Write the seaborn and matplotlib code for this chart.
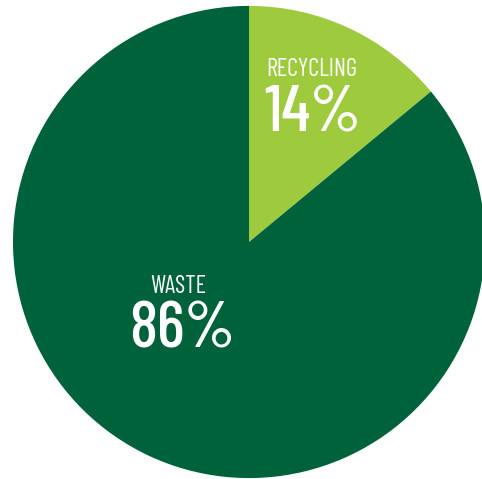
import matplotlib
matplotlib.use("Agg")
import matplotlib.pyplot as plt
import seaborn as sns

# Share of materials
categories = ["RECYCLING", "WASTE"]
shares = [14, 86]
colors = ["#9dcb3d", "#00623a"]

sns.set_theme(style="white")
narrow = ["Barlow Condensed", "DejaVu Sans"]

fig = plt.figure(figsize=(4.82, 4.79), dpi=100)
ax = fig.add_axes([0, 0, 1, 1])
ax.pie(shares, colors=colors, startangle=90, counterclock=False,
       radius=1, center=(0, 0), wedgeprops=dict(linewidth=0))
ax.set_aspect("auto")
ax.set_xlim(-1.055, 0.987)
ax.set_ylim(-1.004, 1.025)
ax.axis("off")

# Label anchors (title x, title baseline, value x, value baseline)
label_pos = {"RECYCLING": (0.265, 0.703, 0.270, 0.470),
             "WASTE": (-0.298, -0.216, -0.282, -0.445)}
for cat, val in zip(categories, shares):
    xt, yt, xv, yv = label_pos[cat]
    ax.text(xt, yt, cat, color="white", fontsize=17.5, family=narrow,
            weight=400, ha="center", va="baseline")
    ax.text(xv, yv, f"{val}%", color="white", fontsize=47, family=narrow,
            weight=500, ha="center", va="baseline")

fig.savefig("out.png", dpi=100)
